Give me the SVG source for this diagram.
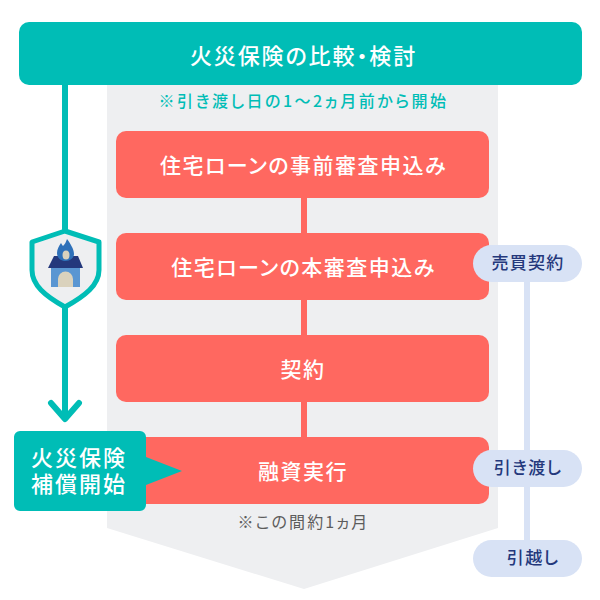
<svg xmlns="http://www.w3.org/2000/svg" width="600" height="600" viewBox="0 0 600 600">
<style>
text{font-family:"Noto Sans CJK JP","Noto Sans",sans-serif;text-anchor:middle;font-feature-settings:"palt"}
.w{fill:#fff;font-weight:500;font-size:21px;letter-spacing:1.500px}
.t{fill:#fff;font-weight:500;font-size:22px;letter-spacing:1.900px}
.c{fill:#fff;font-weight:500;font-size:22px;letter-spacing:2px}
.p{fill:#ff6860}
.pill{fill:#d8e2f5}
.pt{fill:#24387c;font-weight:500;font-size:17px;letter-spacing:1.300px}
</style>
<g id="band"><path d="M107 80H498V528L304 589L107 528Z" fill="#eeeff1"/></g>
<g id="connectors">
<path d="M304 190V445" stroke="#ff6860" stroke-width="6" fill="none"/>
<path d="M527 270V560" stroke="#d8e2f5" stroke-width="6" fill="none"/>
<path d="M65 80V420" stroke="#00bdb6" stroke-width="6" fill="none"/>
<path d="M51 403L65 419L79 403" stroke="#00bdb6" stroke-width="6" fill="none" stroke-linecap="round" stroke-linejoin="round"/>
</g>
<g id="top"><rect x="19" y="22" width="563" height="63" rx="10" fill="#00bdb6"/><text class="t" x="303.500" y="64">火災保険の比較・検討</text></g>
<text x="303.500" y="107" font-size="16" font-weight="500" letter-spacing="2.500" fill="#00bdb6">※引き渡し日の1～2ヵ月前から開始</text>
<g id="n1"><rect class="p" x="116" y="131" width="373" height="67" rx="10"/><text class="w" x="303.500" y="173">住宅ローンの事前審査申込み</text></g>
<g id="n2"><rect class="p" x="116" y="233" width="373" height="67" rx="10"/><text class="w" x="303.500" y="275">住宅ローンの本審査申込み</text></g>
<g id="n3"><rect class="p" x="116" y="335" width="373" height="67" rx="10"/><text class="w" x="303" y="377">契約</text></g>
<g id="n4"><rect class="p" x="116" y="437" width="373" height="67" rx="10"/><text class="w" x="303" y="479">融資実行</text></g>
<g id="note"><text x="303.500" y="528" font-size="16" letter-spacing="2.100" fill="#5c5c5c">※この間約1ヵ月</text></g>
<g id="shield">
<path d="M65 231L99 242V270C99 285 85 296 65 307C45 296 32 285 32 270V242Z" fill="#eeeff1" stroke="#00bdb6" stroke-width="5" stroke-linejoin="round"/>
<rect x="51" y="267" width="29" height="20" fill="#5a96d2"/>
<path d="M58 287V279A7.500 7.500 0 0 1 73 279V287Z" fill="#dad2bd"/>
<path d="M54 256H78L83 268H48Z" fill="#24387c"/>
<path d="M67 239C70 243 74 249 74 254C74 258 70 261 65.500 261C61 261 57 258 57 253C57 249 59 246 61 243C62 245 63 246 63 246C65 244 66 242 67 239Z" fill="#2e70b9"/>
<ellipse cx="66" cy="255" rx="3.500" ry="4.500" fill="#dad2bd"/>
</g>
<g id="callout">
<path d="M20 431H140A6 6 0 0 1 146 437V457L182 471L146 485V505A6 6 0 0 1 140 511H20A6 6 0 0 1 14 505V437A6 6 0 0 1 20 431Z" fill="#00bdb6"/>
<text class="c"><tspan x="79" y="466">火災保険</tspan><tspan x="79" y="492">補償開始</tspan></text>
</g>
<g id="p1"><rect class="pill" x="473" y="245" width="109" height="37" rx="18.500"/><text class="pt" x="528" y="269">売買契約</text></g>
<g id="p2"><rect class="pill" x="473" y="450" width="109" height="37" rx="18.500"/><text class="pt" x="528" y="474">引き渡し</text></g>
<g id="p3"><rect class="pill" x="473" y="540" width="109" height="37" rx="18.500"/><text class="pt" x="533" y="564">引越し</text></g>
</svg>
